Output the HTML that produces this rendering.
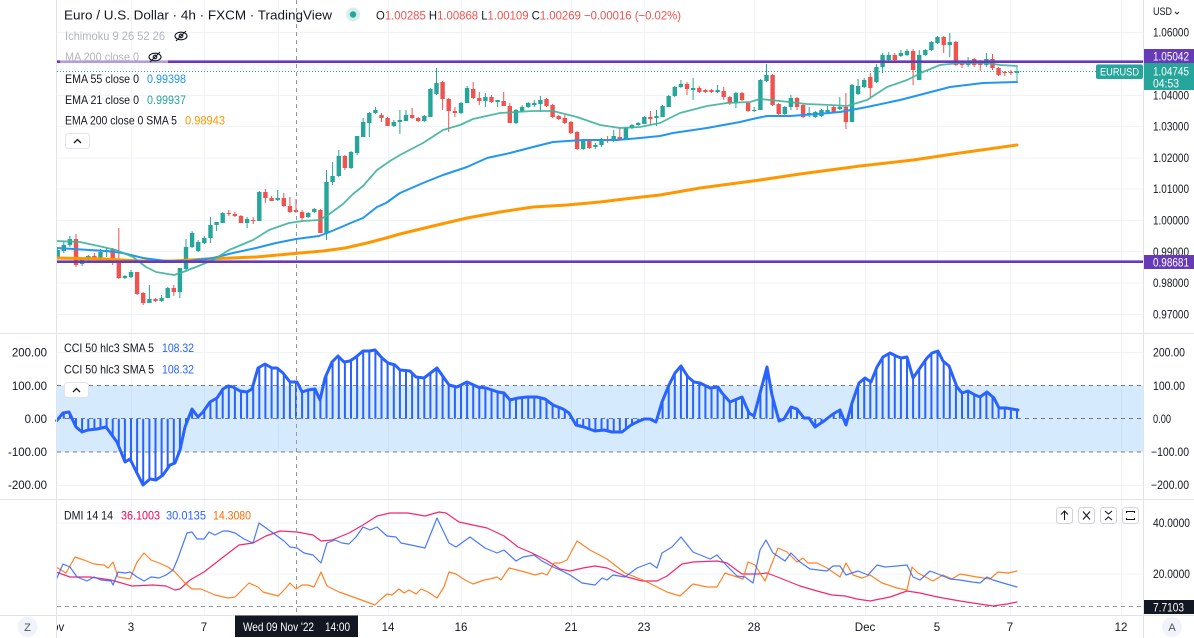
<!DOCTYPE html>
<html><head><meta charset="utf-8">
<style>
html,body{margin:0;padding:0;background:#fff;}
body{width:1194px;height:638px;overflow:hidden;}
svg{display:block}
</style></head><body>
<svg id="c" width="1194" height="638" xmlns="http://www.w3.org/2000/svg" font-family="Liberation Sans, sans-serif">
<rect width="1194" height="638" fill="#fff"/>
<g id="grid" stroke="#f0f3fa" stroke-width="1"></g>
<!-- CCI band -->
<rect x="57" y="385.5" width="1086" height="66.5" fill="rgba(33,150,243,0.19)"/>
<g stroke="#787b86" stroke-width="1" stroke-dasharray="4 4">
  <line x1="57" y1="385.5" x2="1143" y2="385.5"/>
  <line x1="57" y1="418.5" x2="1143" y2="418.5"/>
  <line x1="57" y1="452" x2="1143" y2="452"/>
</g>
<line x1="57" y1="606.5" x2="1143" y2="606.5" stroke="#9598a1" stroke-width="1" stroke-dasharray="4 4"/>
<g id="dyn"></g>
<!-- separators -->
<g stroke="#e0e3eb" stroke-width="1">
  <line x1="0" y1="333.5" x2="1194" y2="333.5"/>
  <line x1="0" y1="499.5" x2="1194" y2="499.5"/>
  <line x1="0" y1="615.5" x2="1194" y2="615.5"/>
  <line x1="56.5" y1="0" x2="56.5" y2="638"/>
  <line x1="1143.5" y1="0" x2="1143.5" y2="638"/>
</g>
<!-- crosshair -->
<line x1="296.5" y1="0" x2="296.5" y2="615" stroke="#9598a1" stroke-width="1" stroke-dasharray="4 4"/>

<!-- legends main -->
<text x="64" y="19.5" font-size="13" fill="#131722" textLength="268" lengthAdjust="spacingAndGlyphs">Euro / U.S. Dollar · 4h · FXCM · TradingView</text>
<circle cx="353" cy="14.5" r="7" fill="#d6efea"/>
<circle cx="353" cy="14.5" r="3.2" fill="#26a69a"/>
<text x="376" y="19.5" font-size="12" fill="#131722" textLength="305" lengthAdjust="spacingAndGlyphs">O<tspan fill="#ef5350">1.00285</tspan> H<tspan fill="#ef5350">1.00868</tspan> L<tspan fill="#ef5350">1.00109</tspan> C<tspan fill="#ef5350">1.00269</tspan> <tspan fill="#ef5350">−0.00016 (−0.02%)</tspan></text>

<text x="65" y="40" font-size="12" fill="#b2b5be" textLength="100" lengthAdjust="spacingAndGlyphs">Ichimoku 9 26 52 26</text>
<g transform="translate(181,36)" stroke="#131722" stroke-width="1.1" fill="none"><ellipse rx="6" ry="3.8"/><circle r="1.8"/><line x1="-5" y1="5" x2="5" y2="-5"/></g>
<rect x="60" y="52" width="108" height="16" fill="#fff" opacity="0.5"/>
<text x="65" y="61" font-size="12" fill="#b2b5be" textLength="74" lengthAdjust="spacingAndGlyphs">MA 200 close 0</text>
<g transform="translate(155,57)" stroke="#131722" stroke-width="1.1" fill="none"><ellipse rx="6" ry="3.8"/><circle r="1.8"/><line x1="-5" y1="5" x2="5" y2="-5"/></g>

<text x="65" y="83" font-size="12" fill="#131722" textLength="74" lengthAdjust="spacingAndGlyphs">EMA 55 close 0</text>
<text x="147" y="83" font-size="12" fill="#2196f3" textLength="39" lengthAdjust="spacingAndGlyphs">0.99398</text>
<text x="65" y="104" font-size="12" fill="#131722" textLength="74" lengthAdjust="spacingAndGlyphs">EMA 21 close 0</text>
<text x="147" y="104" font-size="12" fill="#26a69a" textLength="39" lengthAdjust="spacingAndGlyphs">0.99937</text>
<text x="65" y="124.5" font-size="12" fill="#131722" textLength="112" lengthAdjust="spacingAndGlyphs">EMA 200 close 0 SMA 5</text>
<text x="185" y="124.5" font-size="12" fill="#ff9800" textLength="40" lengthAdjust="spacingAndGlyphs">0.98943</text>
<rect x="65.5" y="133.5" width="24" height="15" rx="3" fill="#fff" stroke="#e0e3eb"/>
<polyline points="74,143 77.5,139.5 81,143" fill="none" stroke="#131722" stroke-width="1.3"/>

<!-- CCI legend -->
<text x="64" y="352" font-size="12" fill="#131722" textLength="90" lengthAdjust="spacingAndGlyphs">CCI 50 hlc3 SMA 5</text>
<text x="162" y="352" font-size="12" fill="#2962ff" textLength="32" lengthAdjust="spacingAndGlyphs">108.32</text>
<text x="64" y="373.5" font-size="12" fill="#131722" textLength="90" lengthAdjust="spacingAndGlyphs">CCI 50 hlc3 SMA 5</text>
<text x="162" y="373.5" font-size="12" fill="#2962ff" textLength="32" lengthAdjust="spacingAndGlyphs">108.32</text>
<rect x="64.5" y="382.5" width="24" height="15" rx="3" fill="#fff" stroke="#e0e3eb"/>
<polyline points="73,392 76.5,388.5 80,392" fill="none" stroke="#131722" stroke-width="1.3"/>

<!-- DMI legend -->
<text x="64" y="519.5" font-size="12" fill="#131722" textLength="49" lengthAdjust="spacingAndGlyphs">DMI 14 14</text>
<text x="121" y="519.5" font-size="12" fill="#f50057" textLength="39" lengthAdjust="spacingAndGlyphs">36.1003</text>
<text x="166" y="519.5" font-size="12" fill="#2962ff" textLength="40" lengthAdjust="spacingAndGlyphs">30.0135</text>
<text x="213" y="519.5" font-size="12" fill="#ff6d00" textLength="38" lengthAdjust="spacingAndGlyphs">14.3080</text>

<!-- DMI buttons -->
<g fill="#fff" stroke="#d1d4dc">
  <rect x="1056.5" y="507.5" width="16" height="16" rx="3"/>
  <rect x="1078.5" y="507.5" width="16" height="16" rx="3"/>
  <rect x="1100.5" y="507.5" width="16" height="16" rx="3"/>
  <rect x="1122.5" y="507.5" width="16" height="16" rx="3"/>
</g>
<g stroke="#131722" stroke-width="1.1" fill="none">
  <line x1="1064.5" y1="511" x2="1064.5" y2="520"/><polyline points="1061,514.5 1064.5,511 1068,514.5"/>
  <line x1="1083" y1="511.5" x2="1090" y2="519.5"/><line x1="1090" y1="511.5" x2="1083" y2="519.5"/>
  <polyline points="1105,511 1108.5,514 1112,511"/><polyline points="1105,520 1108.5,517 1112,520"/>
  <path d="M1126.5 513 v-1.5 h8 v1.5 M1126.5 518 v1.5 h8 v-1.5"/>
</g>

<!-- right scale main -->
<text x="1153" y="15" font-size="11" fill="#131722" textLength="19" lengthAdjust="spacingAndGlyphs">USD</text>
<polyline points="1175,12 1177,14 1179,12" fill="none" stroke="#131722" stroke-width="0.9"/>
<g font-size="11.5" fill="#131722">
  <text x="1153" y="36.7" textLength="36" lengthAdjust="spacingAndGlyphs">1.06000</text>
  <text x="1153" y="99.3" textLength="36" lengthAdjust="spacingAndGlyphs">1.04000</text>
  <text x="1153" y="130.6" textLength="36" lengthAdjust="spacingAndGlyphs">1.03000</text>
  <text x="1153" y="161.9" textLength="36" lengthAdjust="spacingAndGlyphs">1.02000</text>
  <text x="1153" y="193.2" textLength="36" lengthAdjust="spacingAndGlyphs">1.01000</text>
  <text x="1153" y="224.5" textLength="36" lengthAdjust="spacingAndGlyphs">1.00000</text>
  <text x="1153" y="255.8" textLength="36" lengthAdjust="spacingAndGlyphs">0.99000</text>
  <text x="1153" y="287.1" textLength="36" lengthAdjust="spacingAndGlyphs">0.98000</text>
  <text x="1153" y="318.4" textLength="36" lengthAdjust="spacingAndGlyphs">0.97000</text>
  <!-- CCI right -->
  <text x="1153" y="356.7" textLength="32" lengthAdjust="spacingAndGlyphs">200.00</text>
  <text x="1153" y="390" textLength="32" lengthAdjust="spacingAndGlyphs">100.00</text>
  <text x="1153" y="423" textLength="18" lengthAdjust="spacingAndGlyphs">0.00</text>
  <text x="1151" y="456" textLength="38" lengthAdjust="spacingAndGlyphs">−100.00</text>
  <text x="1151" y="489" textLength="38" lengthAdjust="spacingAndGlyphs">−200.00</text>
  <!-- DMI right -->
  <text x="1153" y="527" textLength="37" lengthAdjust="spacingAndGlyphs">40.0000</text>
  <text x="1153" y="578" textLength="37" lengthAdjust="spacingAndGlyphs">20.0000</text>
  <!-- CCI left -->
  <text x="47" y="356.7" text-anchor="end">200.00</text>
  <text x="47" y="390" text-anchor="end">100.00</text>
  <text x="47" y="423" text-anchor="end">0.00</text>
  <text x="47" y="456" text-anchor="end">-100.00</text>
  <text x="47" y="489" text-anchor="end">-200.00</text>
</g>

<!-- price line label -->
<rect x="1096" y="64.5" width="47" height="14.5" rx="2" fill="#26a69a"/>
<text x="1119.5" y="75.5" font-size="11" fill="#fff" text-anchor="middle" textLength="39" lengthAdjust="spacingAndGlyphs">EURUSD</text>
<rect x="1144" y="49" width="50" height="14" fill="#673ab7"/>
<text x="1153" y="60.5" font-size="11.5" fill="#fff" textLength="36" lengthAdjust="spacingAndGlyphs">1.05042</text>
<rect x="1144" y="63" width="50" height="27" fill="#26a69a"/>
<text x="1153" y="75.5" font-size="11.5" fill="#fff" textLength="36" lengthAdjust="spacingAndGlyphs">1.04745</text>
<text x="1153" y="87.5" font-size="11.5" fill="#fff" textLength="26" lengthAdjust="spacingAndGlyphs">04:53</text>
<rect x="1144" y="255" width="50" height="14" fill="#673ab7"/>
<text x="1153" y="266.5" font-size="11.5" fill="#fff" textLength="36" lengthAdjust="spacingAndGlyphs">0.98681</text>
<rect x="1144" y="600" width="50" height="14" fill="#131722"/>
<text x="1153" y="611.5" font-size="11.5" fill="#fff" textLength="31" lengthAdjust="spacingAndGlyphs">7.7103</text>

<!-- time axis -->
<clipPath id="tclip"><rect x="57" y="616" width="1086" height="22"/></clipPath>
<g font-size="11.5" fill="#131722" text-anchor="middle" clip-path="url(#tclip)">
  <text x="54" y="631">Nov</text>
  <text x="131" y="631">3</text>
  <text x="204" y="631">7</text>
  <text x="388" y="631">14</text>
  <text x="461" y="631">16</text>
  <text x="571" y="631">21</text>
  <text x="644" y="631">23</text>
  <text x="754" y="631">28</text>
  <text x="865" y="631">Dec</text>
  <text x="937" y="631">5</text>
  <text x="1010" y="631">7</text>
  <text x="1121" y="631">12</text>
</g>
<rect x="235" y="615.5" width="123" height="21.5" fill="#131722"/>
<text x="243" y="631" font-size="12" fill="#fff" textLength="71" lengthAdjust="spacingAndGlyphs">Wed 09 Nov '22</text>
<text x="325" y="631" font-size="12" fill="#fff" textLength="25" lengthAdjust="spacingAndGlyphs">14:00</text>
<circle cx="27.5" cy="627" r="10" fill="#f0f3fa"/>
<text x="27.5" y="631" font-size="11" fill="#50535e" text-anchor="middle">Z</text>
<circle cx="1172" cy="627" r="10" fill="#f0f3fa"/>
<text x="1172" y="631" font-size="11" fill="#50535e" text-anchor="middle">A</text>
</svg>
<script>
(function(){
var X0=57.7,DX=6.11;
var g='';
var hy=[32.5,64,95.5,126.5,158,189,220.5,251.5,283,314.5];
hy.forEach(function(y){g+='<line x1="57" y1="'+y+'" x2="1143" y2="'+y+'"/>';});
[352.5,485.5,523,574].forEach(function(y){g+='<line x1="57" y1="'+y+'" x2="1143" y2="'+y+'"/>';});
[131.5,204.5,278.5,388.5,461.5,571.5,644.5,754.5,865.5,937.5,1010.5,1121.5].forEach(function(x){g+='<line x1="'+x+'" y1="0" x2="'+x+'" y2="615"/>';});
document.getElementById('grid').innerHTML=g;

var C=[[1,250,257,247,259],[1,245,251,242,253],[1,239,245,236,247],[0,239,265,234,267],[1,260,264,258,266],[1,256,260,255,262],[0,256,258,253,259],[1,252,258,249,262],[1,250,252,248,257],[0,249,262,248,265],
[0,262,278,228,279],[1,276,278,275,279],[1,272,277,270,278],[0,272,294,272,295],[0,293,303,292,305],[1,299,303,285,303],[0,299,301,298,302],[1,298,301,295,302],[1,288,298,287,298],[0,288,292,285,296],
[1,268,292,268,298],[1,247,269,239,272],[1,233,247,231,248],[1,242,251,240,252],[1,238,243,236,244],[1,225,238,217,243],[1,222,225,222,231],[1,213,223,212,223],[0,213,214,210,216],[0,214,216,212,217],
[0,216,223,215,223],[1,219,223,217,228],[0,220,221,217,224],[1,192,221,191,221],[0,192,198,189,203],[0,198,201,196,201],[1,198,200,190,201],[0,198,206,193,207],[0,206,212,197,213],[0,210,212,199,213],
[0,212,218,210,222],[1,213,217,212,218],[1,209,212,208,213],[0,210,233,209,233],[1,182,233,170,240],[1,176,182,162,185],[1,156,176,150,177],[0,156,168,155,170],[1,152,168,151,169],[1,136,153,136,155],
[1,122,137,118,137],[1,113,123,112,137],[1,110,113,107,114],[0,115,118,113,122],[0,118,126,117,126],[1,122,126,120,127],[1,120,122,110,134],[1,115,121,110,121],[0,115,118,108,119],[0,118,121,117,122],
[1,116,121,115,122],[1,89,117,88,117],[1,83,94,68,95],[0,82,99,81,110],[0,99,111,98,132],[0,111,113,107,117],[1,103,113,102,114],[1,88,103,86,103],[0,89,98,82,99],[0,98,101,92,105],
[1,97,101,93,107],[0,97,102,95,103],[1,100,102,100,107],[0,101,106,92,106],[0,106,123,103,123],[1,110,123,109,124],[1,107,111,105,112],[1,103,107,102,108],[1,103,105,100,107],[1,100,104,96,112],
[0,99,106,98,107],[0,105,117,104,118],[0,116,119,115,120],[0,118,123,115,124],[0,122,133,121,134],[0,132,149,131,150],[1,140,149,139,150],[0,140,148,139,149],[1,145,147,143,149],[1,139,145,138,147],
[0,139,141,136,143],[1,136,141,130,142],[0,137,139,128,140],[1,128,140,127,140],[1,125,128,124,129],[1,123,125,122,126],[1,117,124,116,124],[0,117,119,111,125],[1,116,118,110,126],[1,106,117,105,117],
[1,96,107,95,107],[1,87,96,86,97],[1,84,87,80,88],[0,84,89,82,95],[1,88,90,78,100],[0,88,92,86,93],[0,90,92,89,93],[0,90,92,89,93],[1,90,92,85,93],[0,91,97,87,100],
[0,97,103,96,105],[1,93,103,92,108],[0,93,100,92,101],[0,103,111,102,112],[1,110,111,107,112],[1,80,110,79,110],[1,75,81,64,82],[0,75,105,74,106],[0,104,114,103,115],[1,107,114,106,115],
[1,98,107,95,110],[0,98,107,97,110],[0,105,117,104,118],[1,113,115,107,117],[1,112,117,111,118],[1,110,116,109,117],[1,110,112,106,113],[0,107,112,105,113],[1,107,109,97,110],[0,107,122,93,129],
[1,85,122,84,122],[1,86,94,79,95],[1,80,87,78,88],[0,77,88,73,97],[1,67,82,64,83],[1,55,67,53,73],[1,55,60,52,62],[0,55,60,53,62],[1,53,56,50,57],[1,51,55,49,56],
[0,51,70,49,85],[1,55,80,50,80],[1,50,55,49,56],[1,42,50,41,51],[1,37,43,36,44],[0,37,45,36,53],[1,42,45,33,57],[0,42,65,41,66],[0,63,65,62,68],[1,61,65,57,67],
[0,59,65,58,67],[0,63,65,60,71],[1,59,65,53,67],[0,59,68,54,70],[0,68,75,67,76],[0,72,73,71,76],[0,72,73,70,75],[1,71,73,70,74]];

var s='<clipPath id="mclip"><rect x="57" y="0" width="1086" height="333"/></clipPath><g clip-path="url(#mclip)">';
s+='<line x1="57" y1="71.5" x2="1096" y2="71.5" stroke="#26a69a" stroke-width="1" stroke-dasharray="1 2"/>';
for(var i=0;i<C.length;i++){
  var c=C[i],x=X0+i*DX,col=c[0]?'#26a69a':'#ef5350';
  var bt=c[1],bb=Math.max(c[2],c[1]+1);
  s+='<line x1="'+x.toFixed(1)+'" y1="'+c[3]+'" x2="'+x.toFixed(1)+'" y2="'+c[4]+'" stroke="'+col+'" stroke-width="1"/>';
  s+='<rect x="'+(x-2.2).toFixed(1)+'" y="'+bt+'" width="4.4" height="'+(bb-bt)+'" fill="'+col+'"/>';
}
function pl(p,col,w,op){return '<polyline points="'+p.map(function(q){return q[0]+','+q[1];}).join(' ')+'" fill="none" stroke="'+col+'" stroke-width="'+w+'" stroke-linejoin="round" stroke-linecap="round"'+(op?' opacity="'+op+'"':'')+'/>';}
var E200=[[56,258],[106,259],[139,261],[173,261],[206,259],[256,257],[300,253],[323,251],[345,248],[367,243],[386,238],[400,234],[433,226],[467,218],[500,212],[533,207],[567,205],[600,202],[633,198],[660,195],[700,188],[760,180],[800,174],[860,166],[913,160],[960,153],[1017,145]];
var E55=[[56,248],[106,251],[123,253],[143,258],[166,261],[189,261],[213,258],[233,253],[256,248],[276,243],[296,239],[319,236],[327,233],[339,228],[353,222],[363,218],[377,207],[386,203],[400,193],[423,183],[443,175],[467,167],[487,158],[510,153],[533,147],[553,142],[583,140],[617,140],[640,138],[660,136],[673,133],[707,128],[740,122],[757,118],[767,116],[790,116],[817,114],[840,112],[867,107],[900,100],[927,93],[950,87],[983,83],[1017,82]];
var E21=[[56,241],[80,242],[103,247],[116,250],[133,257],[146,267],[156,272],[174,275],[183,272],[196,267],[213,260],[229,250],[253,240],[269,230],[289,223],[303,221],[319,220],[328,215],[343,204],[353,194],[363,186],[377,170],[390,161],[400,155],[423,143],[443,130],[460,125],[473,119],[500,113],[533,111],[553,111],[577,117],[600,125],[620,128],[640,127],[660,123],[680,113],[707,106],[727,103],[750,102],[760,99],[780,101],[807,104],[830,105],[847,106],[867,100],[887,87],[907,80],[923,72],[940,65],[960,63],[987,63],[1000,65],[1017,66]];
s+=pl(E200,'#ff9800',3);
s+=pl(E55,'#2196f3',2);
s+=pl(E21,'#3db39b',1.8,0.9);
s+='<line x1="1017" y1="66" x2="1017" y2="82" stroke="#3db39b" stroke-width="1"/>';
s+='</g>';
s+='<line x1="57" y1="61.7" x2="1143" y2="61.7" stroke="#673ab7" stroke-width="2.6"/>';
s+='<line x1="57" y1="261.7" x2="1143" y2="261.7" stroke="#673ab7" stroke-width="2.6"/>';

var CCI=[[56.7,420.7],[63,413],[69,412],[76,427],[82,432],[88,430],[97,429],[106,427],[117,442],[125,462],[130,459],[143,485],[150,479],[156,480],[163,475],[170,465],[175,463],[180,450],[185,427],[192,409],[198,417],[203,412],[210,402],[217,398],[223,389],[228,386],[233,387],[240,391],[247,392],[252,389],[258,368],[265,364],[272,368],[277,368],[283,373],[290,382],[297,382],[302,392],[308,390],[315,389],[320,400],[325,378],[332,362],[338,356],[344,362],[350,361],[356,357],[363,351],[369,351],[375,350],[382,358],[388,363],[395,365],[400,370],[410,371],[416,377],[424,378],[437,368],[449,385],[457,387],[467,382],[478,387],[486,388],[498,392],[504,393],[510,400],[518,398],[527,397],[537,397],[545,399],[553,405],[563,409],[569,413],[576,425],[584,427],[595,431],[604,430],[612,432],[622,432],[631,425],[637,422],[644,419],[650,419],[656,422],[662,402],[669,385],[675,373],[681,366],[688,377],[694,382],[700,383],[710,388],[718,387],[722,393],[730,402],[742,397],[749,413],[754,416],[767,367],[772,395],[779,421],[784,419],[791,407],[797,409],[804,418],[809,418],[815,427],[824,421],[833,414],[840,410],[846,425],[852,403],[859,383],[865,378],[871,382],[877,367],[883,357],[890,353],[896,356],[901,358],[907,357],[913,378],[920,368],[927,358],[932,353],[938,351],[943,361],[949,366],[957,387],[962,393],[968,391],[975,395],[980,397],[987,392],[994,398],[999,408],[1006,408],[1012,409],[1018,410]];
function interp(p,x){if(x<=p[0][0])return p[0][1];for(var k=1;k<p.length;k++){if(x<=p[k][0]){var a=p[k-1],b=p[k];return a[1]+(b[1]-a[1])*(x-a[0])/(b[0]-a[0]);}}return p[p.length-1][1];}
var Z=418.7;
for(var i=0;i<C.length;i++){var x=X0+i*DX; if(x<CCI[0][0])continue; var y=interp(CCI,x); s+='<line x1="'+x.toFixed(1)+'" y1="'+Z+'" x2="'+x.toFixed(1)+'" y2="'+y.toFixed(1)+'" stroke="#2962ff" stroke-width="2"/>';}
s+=pl(CCI,'#2962ff',3);

var ADX=[[56,572],[70,577],[90,577],[111,580],[132,586],[153,585],[166,586],[175,590],[180,589],[190,580],[204,572],[222,558],[239,545],[253,543],[266,536],[280,531],[297,532],[313,535],[321,541],[332,540],[349,533],[363,525],[377,516],[390,513],[408,513],[425,516],[439,512],[446,513],[459,522],[473,525],[487,528],[504,536],[518,547],[532,553],[546,560],[560,569],[570,571],[583,568],[595,566],[607,568],[627,577],[642,581],[657,581],[667,576],[682,564],[693,562],[717,561],[727,563],[742,574],[758,574],[767,573],[780,578],[800,586],[817,591],[832,595],[845,596],[857,599],[870,601],[890,597],[907,591],[920,593],[933,596],[943,598],[960,601],[973,603],[993,606],[1007,604],[1017,602]];
var PDI=[[56,580],[63,564],[70,567],[77,577],[87,581],[94,577],[101,580],[111,581],[113,585],[118,572],[125,573],[130,572],[137,577],[144,581],[151,577],[159,578],[166,575],[173,570],[178,558],[187,533],[192,532],[197,539],[204,539],[209,532],[215,535],[223,531],[228,531],[235,533],[244,539],[253,543],[259,523],[266,528],[273,533],[284,541],[290,547],[297,548],[304,553],[313,555],[321,563],[327,543],[335,540],[342,543],[349,544],[356,537],[363,527],[370,530],[377,527],[387,536],[396,537],[401,543],[411,545],[425,548],[437,518],[449,543],[456,547],[470,537],[485,548],[497,553],[504,550],[516,561],[523,557],[534,555],[542,561],[553,567],[560,570],[570,575],[582,583],[595,585],[602,578],[607,580],[613,575],[625,577],[637,568],[650,563],[657,568],[662,553],[672,547],[681,537],[693,552],[710,559],[717,555],[727,566],[737,576],[745,577],[753,583],[760,550],[766,540],[773,553],[785,561],[791,553],[800,562],[810,569],[827,571],[833,566],[840,566],[846,575],[858,571],[868,575],[877,565],[885,567],[897,566],[907,565],[913,577],[920,580],[930,571],[938,574],[950,579],[960,580],[972,582],[980,583],[987,577],[993,580],[1003,583],[1017,587]];
var MDI=[[56,567],[66,573],[75,557],[84,560],[94,564],[104,565],[108,568],[113,562],[118,577],[130,579],[137,562],[144,553],[151,560],[159,563],[168,567],[175,572],[184,582],[192,589],[201,589],[215,595],[228,598],[235,597],[242,590],[249,583],[258,587],[263,592],[278,596],[285,589],[290,583],[296,589],[302,585],[308,585],[314,587],[321,572],[327,586],[339,592],[356,598],[375,605],[380,600],[387,594],[392,595],[399,589],[404,593],[409,590],[416,594],[421,589],[428,592],[437,598],[444,587],[449,572],[456,574],[465,580],[473,584],[484,580],[490,579],[497,577],[501,580],[509,568],[525,572],[535,575],[542,573],[547,575],[554,563],[560,563],[567,560],[577,541],[590,550],[607,559],[625,573],[643,580],[653,585],[667,592],[680,596],[693,584],[707,587],[717,587],[725,573],[743,579],[748,562],[755,565],[765,581],[778,548],[787,552],[797,562],[803,558],[808,563],[817,563],[827,568],[840,577],[846,563],[853,575],[862,578],[870,575],[882,583],[897,588],[907,590],[912,567],[918,573],[933,581],[943,575],[952,579],[960,574],[977,577],[990,579],[998,572],[1008,573],[1017,571]];
s+='<g clip-path="url(#dclip)"><clipPath id="dclip"><rect x="57" y="500" width="1086" height="115"/></clipPath>';
s+=pl(ADX,'#f50057',1.2,0.85);
s+=pl(MDI,'#ff6d00',1.2,0.85);
s+=pl(PDI,'#2962ff',1.2,0.85);
s+='</g>';
document.getElementById('dyn').innerHTML=s;
})();
</script>
</body></html>
